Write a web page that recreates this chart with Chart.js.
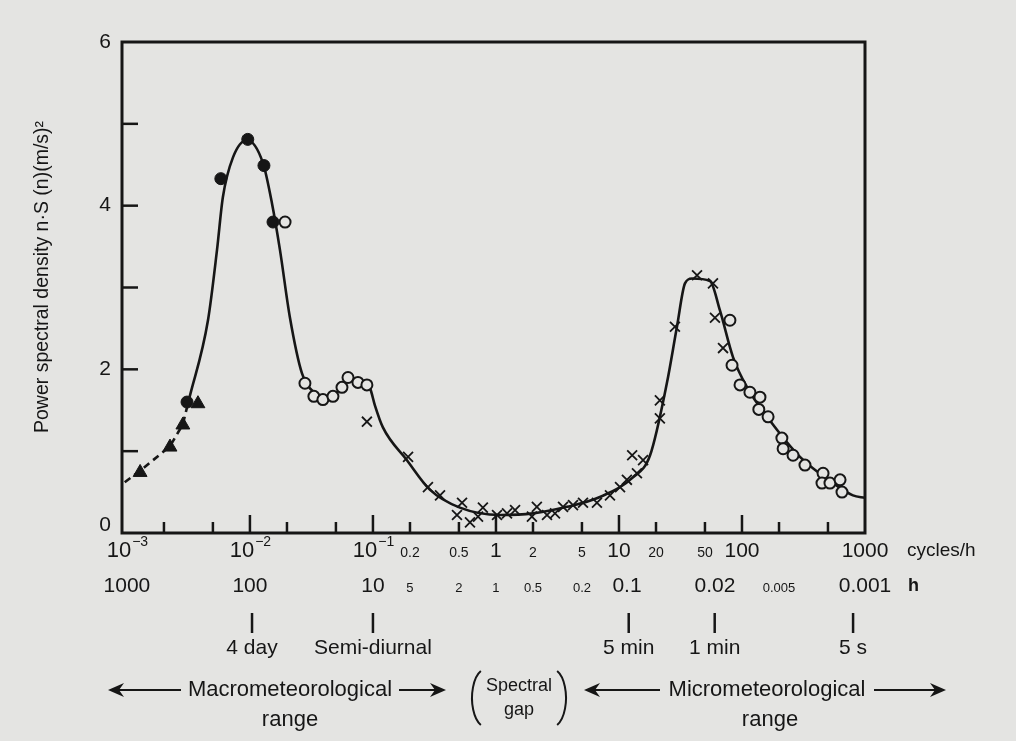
<!DOCTYPE html>
<html>
<head>
<meta charset="utf-8">
<script src="https://cdn.jsdelivr.net/npm/chart.js@4.4.1/dist/chart.umd.min.js"></script>
<style>
  body { margin: 0; background: #e4e4e2; }
  canvas { display: block; }
</style>
</head>
<body>
<canvas id="spectrum" width="1016" height="741"></canvas>
<script>
// curve (cycles/h, (m/s)^2)
const curveFreq = [0.00318, 0.00456, 0.0054, 0.00602, 0.00728, 0.00946, 0.01277, 0.0151, 0.01754, 0.0211,
    0.0265, 0.0331, 0.0407, 0.0509, 0.065, 0.0815, 0.0946, 0.1037, 0.1205, 0.189, 0.29, 0.509, 1.08, 2.0,
    3.78, 7.0, 13.0, 17.9, 24.5, 29.6, 34.4, 39.2, 54.9, 66.2, 84.5, 110, 160, 296, 550, 798, 1000];
const curveDensity = [1.62, 2.60, 3.46, 4.10, 4.59, 4.80, 4.52, 4.03, 3.46, 2.64,
    1.95, 1.72, 1.67, 1.72, 1.87, 1.84, 1.77, 1.56, 1.29, 0.89, 0.53, 0.31, 0.22, 0.24,
    0.32, 0.44, 0.68, 0.95, 1.83, 2.52, 3.05, 3.11, 3.08, 2.72, 2.15, 1.78, 1.42, 0.93, 0.61, 0.46, 0.43];

const dashFreq = [0.00096, 0.00128, 0.00224, 0.00285, 0.00318];
const dashDensity = [0.62, 0.76, 1.06, 1.33, 1.62];

const triangleFreq = [0.00128, 0.00224, 0.00285, 0.00378];
const triangleDensity = [0.74, 1.05, 1.32, 1.58];

const dotFreq = [0.00308, 0.0058, 0.0096, 0.013, 0.0154];
const dotDensity = [1.60, 4.33, 4.81, 4.49, 3.80];

const ringFreq = [0.0193, 0.028, 0.0331, 0.0392, 0.0473, 0.056, 0.0627, 0.0755, 0.0893,
    79.8, 83.0, 96.4, 116, 140, 137, 163, 211, 216, 260, 325, 456, 447, 519, 627, 650];
const ringDensity = [3.80, 1.83, 1.67, 1.63, 1.67, 1.78, 1.90, 1.84, 1.81,
    2.60, 2.05, 1.81, 1.72, 1.66, 1.51, 1.42, 1.16, 1.03, 0.95, 0.83, 0.73, 0.61, 0.61, 0.65, 0.50];

const crossFreq = [0.0893, 0.193, 0.280, 0.351, 0.530, 0.482, 0.615, 0.715, 0.783, 1.02, 1.23, 1.43,
    1.96, 2.15, 2.60, 3.02, 3.51, 4.23, 5.10, 6.62, 8.45, 10.2, 11.6, 14.0, 12.8, 15.7,
    21.5, 21.5, 28.5, 43.1, 58.1, 60.3, 70.1];
const crossDensity = [1.36, 0.93, 0.56, 0.46, 0.37, 0.22, 0.13, 0.20, 0.31, 0.22, 0.24, 0.28,
    0.20, 0.32, 0.22, 0.24, 0.32, 0.34, 0.37, 0.37, 0.46, 0.56, 0.65, 0.73, 0.95, 0.89,
    1.62, 1.40, 2.52, 3.15, 3.05, 2.63, 2.26];

// axes
const yTickValues = [1, 2, 3, 4, 5];
const yLabelValues = [0, 2, 4, 6];
const xTickValues = [0.002, 0.005, 0.01, 0.02, 0.05, 0.1, 0.2, 0.5, 1, 2, 5, 10, 20, 50, 100, 200, 500];
const freqLabelValues = [0.001, 0.01, 0.1, 0.2, 0.5, 1, 2, 5, 10, 20, 50, 100, 1000];
const freqLabelText = ['10|-3', '10|-2', '10|-1', '0.2', '0.5', '1', '2', '5', '10', '20', '50', '100', '1000'];
const periodLabelValues = [0.001, 0.01, 0.1, 0.2, 0.5, 1, 2, 5, 10, 50, 200, 1000];
const periodLabelText = ['1000', '100', '10', '5', '2', '1', '0.5', '0.2', '0.1', '0.02', '0.005', '0.001'];
const markerFreq = [0.0104, 0.1, 12, 60, 800];
const markerText = ['4 day', 'Semi-diurnal', '5 min', '1 min', '5 s'];

function pairs(xs, ys) {
    return xs.map(function(x, i) { return { x: x, y: ys[i] }; });
}

const ink = '#161616';
const paper = '#e4e4e2';
const fontFamily = '"Liberation Sans", Arial, sans-serif';

function arrowHead(ctx, x, y, dir) {
    // notched arrow head, dir = 1 points right, -1 points left
    ctx.beginPath();
    ctx.moveTo(x, y);
    ctx.lineTo(x - dir * 16, y - 7);
    ctx.lineTo(x - dir * 11, y);
    ctx.lineTo(x - dir * 16, y + 7);
    ctx.closePath();
    ctx.fill();
}

const figurePlugin = {
    id: 'figurePlugin',
    beforeDraw(chart) {
        const ctx = chart.ctx;
        ctx.save();
        ctx.fillStyle = paper;
        ctx.fillRect(0, 0, chart.width, chart.height);
        ctx.restore();
    },
    afterDraw(chart) {
        const ctx = chart.ctx;
        const area = chart.chartArea;
        const xs = chart.scales.x;
        const ys = chart.scales.y;
        ctx.save();
        ctx.strokeStyle = ink;
        ctx.fillStyle = ink;

        // frame
        ctx.lineWidth = 3;
        ctx.strokeRect(area.left, area.top, area.right - area.left, area.bottom - area.top);

        // inward ticks
        ctx.lineWidth = 2.5;
        yTickValues.forEach(function(v) {
            const py = ys.getPixelForValue(v);
            ctx.beginPath();
            ctx.moveTo(area.left, py);
            ctx.lineTo(area.left + 16, py);
            ctx.stroke();
        });
        xTickValues.forEach(function(v) {
            const px = xs.getPixelForValue(v);
            const major = Math.abs(Math.log10(v) - Math.round(Math.log10(v))) < 1e-6;
            ctx.beginPath();
            ctx.moveTo(px, area.bottom);
            ctx.lineTo(px, area.bottom - (major ? 18 : 11));
            ctx.stroke();
        });

        // y labels
        ctx.textAlign = 'right';
        ctx.textBaseline = 'middle';
        ctx.font = '21px ' + fontFamily;
        yLabelValues.forEach(function(v) {
            const py = ys.getPixelForValue(v) - (v === 0 ? 8 : 0);
            ctx.fillText(String(v), area.left - 11, py);
        });

        // y title
        ctx.save();
        ctx.translate(43, 277);
        ctx.rotate(-Math.PI / 2);
        ctx.textAlign = 'center';
        ctx.font = '19.5px ' + fontFamily;
        ctx.fillText('Power spectral density n\u00b7S (n)(m/s)\u00b2', 0, 0);
        ctx.restore();

        // frequency row
        const rowFreq = area.bottom + 18;
        const bigFreq = ['1', '10', '100', '1000'];
        ctx.textAlign = 'center';
        freqLabelValues.forEach(function(v, i) {
            const px = xs.getPixelForValue(v);
            const t = freqLabelText[i];
            if (t.indexOf('|') > 0) {
                const parts = t.split('|');
                ctx.font = '22px ' + fontFamily;
                const w1 = ctx.measureText(parts[0]).width;
                ctx.font = '14px ' + fontFamily;
                const w2 = ctx.measureText('\u2212' + parts[1].slice(1)).width;
                const x0 = px - (w1 + w2) / 2;
                ctx.textAlign = 'left';
                ctx.font = '22px ' + fontFamily;
                ctx.fillText(parts[0], x0, rowFreq);
                ctx.font = '14px ' + fontFamily;
                ctx.fillText('\u2212' + parts[1].slice(1), x0 + w1 + 1, rowFreq - 9);
                ctx.textAlign = 'center';
            } else {
                ctx.font = (bigFreq.indexOf(t) >= 0 ? '21px ' : '14px ') + fontFamily;
                ctx.fillText(t, px, rowFreq + (bigFreq.indexOf(t) >= 0 ? 0 : 2));
            }
        });
        ctx.textAlign = 'left';
        ctx.font = '19px ' + fontFamily;
        ctx.fillText('cycles/h', area.right + 42, rowFreq);

        // period row
        const rowPeriod = area.bottom + 53;
        const bigPeriod = ['1000', '100', '10', '0.1', '0.02', '0.001'];
        ctx.textAlign = 'center';
        periodLabelValues.forEach(function(v, i) {
            const px = xs.getPixelForValue(v);
            const t = periodLabelText[i];
            const big = bigPeriod.indexOf(t) >= 0;
            ctx.font = (big ? '21px ' : '13px ') + fontFamily;
            ctx.fillText(t, px + (t === '0.1' ? 8 : (t === '0.02' ? 10 : 0)), rowPeriod + (big ? 0 : 2));
        });
        ctx.textAlign = 'left';
        ctx.font = 'bold 18px ' + fontFamily;
        ctx.fillText('h', area.right + 43, rowPeriod);

        // period markers
        ctx.lineWidth = 2.5;
        ctx.textAlign = 'center';
        ctx.font = '21px ' + fontFamily;
        markerFreq.forEach(function(v, i) {
            const px = xs.getPixelForValue(v);
            ctx.beginPath();
            ctx.moveTo(px, area.bottom + 80);
            ctx.lineTo(px, area.bottom + 100);
            ctx.stroke();
            ctx.fillText(markerText[i], px, area.bottom + 115);
        });

        // range annotations
        const rowRange = 690;
        ctx.font = '22px ' + fontFamily;
        ctx.lineWidth = 2;
        ctx.textAlign = 'center';
        ctx.fillText('Macrometeorological', 290, rowRange);
        ctx.fillText('range', 290, rowRange + 30);
        ctx.fillText('Micrometeorological', 767, rowRange);
        ctx.fillText('range', 770, rowRange + 30);
        ctx.font = '18px ' + fontFamily;
        ctx.fillText('Spectral', 519, rowRange - 4);
        ctx.fillText('gap', 519, rowRange + 20);

        ctx.beginPath();
        ctx.moveTo(112, rowRange); ctx.lineTo(181, rowRange);
        ctx.moveTo(399, rowRange); ctx.lineTo(440, rowRange);
        ctx.moveTo(590, rowRange); ctx.lineTo(660, rowRange);
        ctx.moveTo(874, rowRange); ctx.lineTo(940, rowRange);
        ctx.stroke();
        arrowHead(ctx, 108, rowRange, -1);
        arrowHead(ctx, 446, rowRange, 1);
        arrowHead(ctx, 584, rowRange, -1);
        arrowHead(ctx, 946, rowRange, 1);

        // brackets round the gap label
        ctx.lineWidth = 2;
        ctx.beginPath();
        ctx.ellipse(486, rowRange + 8, 14, 29, 0, Math.PI * 0.62, Math.PI * 1.38);
        ctx.stroke();
        ctx.beginPath();
        ctx.ellipse(552, rowRange + 8, 14, 29, 0, -Math.PI * 0.38, Math.PI * 0.38);
        ctx.stroke();

        ctx.restore();
    }
};

const chart = new Chart(document.getElementById('spectrum').getContext('2d'), {
    type: 'scatter',
    data: {
        datasets: [
            {
                label: 'Triangles',
                data: pairs(triangleFreq, triangleDensity),
                pointStyle: 'triangle',
                pointRadius: 8,
                backgroundColor: ink,
                borderColor: ink,
                borderWidth: 1
            },
            {
                label: 'Filled circles',
                data: pairs(dotFreq, dotDensity),
                pointStyle: 'circle',
                pointRadius: 6,
                backgroundColor: ink,
                borderColor: ink,
                borderWidth: 1
            },
            {
                label: 'Open circles',
                data: pairs(ringFreq, ringDensity),
                pointStyle: 'circle',
                pointRadius: 5.5,
                backgroundColor: paper,
                borderColor: ink,
                borderWidth: 2
            },
            {
                label: 'Crosses',
                data: pairs(crossFreq, crossDensity),
                pointStyle: 'crossRot',
                pointRadius: 7,
                borderColor: ink,
                borderWidth: 1.8
            },
            {
                label: 'Spectrum',
                data: pairs(curveFreq, curveDensity),
                showLine: true,
                cubicInterpolationMode: 'monotone',
                borderColor: ink,
                borderWidth: 2.6,
                pointRadius: 0
            },
            {
                label: 'Extrapolation',
                data: pairs(dashFreq, dashDensity),
                showLine: true,
                borderColor: ink,
                borderWidth: 2.6,
                borderDash: [7, 5],
                pointRadius: 0
            }
        ]
    },
    options: {
        responsive: false,
        animation: false,
        layout: {
            padding: { left: 122, right: 151, top: 42, bottom: 208 }
        },
        plugins: {
            legend: { display: false },
            tooltip: { enabled: false }
        },
        scales: {
            x: {
                type: 'logarithmic',
                display: false,
                min: 0.000912,
                max: 1000
            },
            y: {
                type: 'linear',
                display: false,
                min: 0,
                max: 6
            }
        }
    },
    plugins: [figurePlugin]
});
</script>
</body>
</html>
